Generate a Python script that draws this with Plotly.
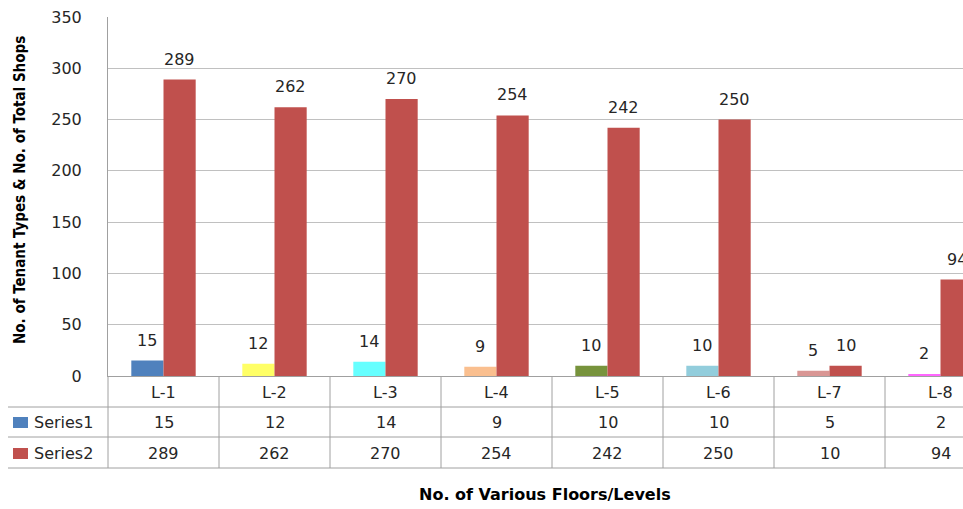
import plotly.graph_objects as go

# Floors / levels and the two counted series
levels = ["L-1", "L-2", "L-3", "L-4", "L-5", "L-6", "L-7", "L-8"]
series1 = [15, 12, 14, 9, 10, 10, 5, 2]          # tenant types per level
series2 = [289, 262, 270, 254, 242, 250, 10, 94]  # total shops per level
series_names = ["Series1", "Series2"]

# per-point colours of Series1, single colour for Series2
s1_colors = ["#4F81BD", "#FFFF66", "#66FFFF", "#FABF8F",
             "#77933C", "#92CDDC", "#D99694", "#FF66FF"]
s2_color = "#C0504D"

W, H = 963, 509
L, R, T, B = 108, 0, 17, 133
PW, PH = W - L - R, H - T - B

def px_x(p):
    return (p - L) / PW

def px_y(p):
    return (T + PH - p) / PH

TXT = "#262626"
GRID = "#C0C0C0"
LINE = "#A0A0A0"
NUM_FONT = dict(family="DejaVu Sans, Verdana, sans-serif", size=16, color=TXT)

BAR_W = 0.29  # width of each bar in category units

fig = go.Figure()
fig.add_bar(x=levels, y=series1, name=series_names[0], marker_color=s1_colors,
            marker_line_width=0, width=BAR_W, offset=-BAR_W)
fig.add_bar(x=levels, y=series2, name=series_names[1], marker_color=s2_color,
            marker_line_width=0, width=BAR_W, offset=0)

annotations = []
shapes = []

# value labels above the bars
for i, (a, b) in enumerate(zip(series1, series2)):
    annotations.append(dict(x=i - BAR_W / 2, y=a, xref="x", yref="y", text=str(a),
                            showarrow=False, xanchor="center", yanchor="bottom",
                            yshift=9, font=NUM_FONT))
    annotations.append(dict(x=i + BAR_W / 2, y=b, xref="x", yref="y", text=str(b),
                            showarrow=False, xanchor="center", yanchor="bottom",
                            yshift=9, font=NUM_FONT))

# data table under the plot
row_cat, row_s1, row_s2 = px_y(392), px_y(422), px_y(453)
for i, lv in enumerate(levels):
    for yy, txt in ((row_cat, lv), (row_s1, str(series1[i])), (row_s2, str(series2[i]))):
        annotations.append(dict(x=i, y=yy, xref="x", yref="paper", text=txt,
                                showarrow=False, xanchor="center", yanchor="middle",
                                font=NUM_FONT))

# table grid: vertical separators between levels
for i in range(len(levels)):
    shapes.append(dict(type="line", xref="x", yref="paper", x0=i + 0.5, x1=i + 0.5,
                       y0=px_y(376), y1=px_y(468), line=dict(color=LINE, width=1)))
# left border of the table (continuation of the value axis)
shapes.append(dict(type="line", xref="paper", yref="paper", x0=0, x1=0,
                   y0=px_y(376), y1=px_y(468), line=dict(color=LINE, width=1)))
# horizontal rules
for yy in (407, 437, 468):
    shapes.append(dict(type="line", xref="paper", yref="paper", x0=px_x(8), x1=1,
                       y0=px_y(yy), y1=px_y(yy), line=dict(color=LINE, width=1)))

# legend keys inside the table
for name, col, yc in ((series_names[0], s1_colors[0], 422), (series_names[1], s2_color, 453)):
    shapes.append(dict(type="rect", xref="paper", yref="paper", x0=px_x(13), x1=px_x(28),
                       y0=px_y(yc + 6), y1=px_y(yc - 5), fillcolor=col, line_width=0))
    annotations.append(dict(x=px_x(32), y=px_y(yc), xref="paper", yref="paper", text=name,
                            showarrow=False, xanchor="left", yanchor="middle", font=NUM_FONT))

# axis titles
annotations.append(dict(x=px_x(545), y=px_y(495), xref="paper", yref="paper",
                        text="No. of Various Floors/Levels", showarrow=False,
                        xanchor="center", yanchor="middle",
                        font=dict(family="DejaVu Sans, Verdana, sans-serif", size=16,
                                  color="#000000", weight="bold")))
annotations.append(dict(x=px_x(20), y=px_y(190), xref="paper", yref="paper",
                        text="No. of Tenant Types & No. of Total Shops", showarrow=False,
                        textangle=-90, xanchor="center", yanchor="middle",
                        font=dict(family="Liberation Sans Narrow, DejaVu Sans Condensed, sans-serif",
                                  size=15, color="#000000", weight="bold")))

fig.update_layout(
    width=W, height=H,
    margin=dict(l=L, r=R, t=T, b=B, pad=0),
    paper_bgcolor="white", plot_bgcolor="white",
    showlegend=False,
    barmode="group",
    xaxis=dict(type="category", categoryorder="array", categoryarray=levels,
               range=[-0.5, -0.5 + PW / 111.0], showticklabels=False, ticks="",
               showgrid=False, zeroline=False, showline=True, linecolor=LINE, linewidth=1),
    yaxis=dict(range=[0, 350], dtick=50, showgrid=True, gridcolor=GRID, gridwidth=1,
               zeroline=False, showline=True, linecolor=LINE, linewidth=1, ticks="",
               ticklabelstandoff=22, tickfont=NUM_FONT),
    shapes=shapes,
    annotations=annotations,
)

fig.write_html("out.html")
